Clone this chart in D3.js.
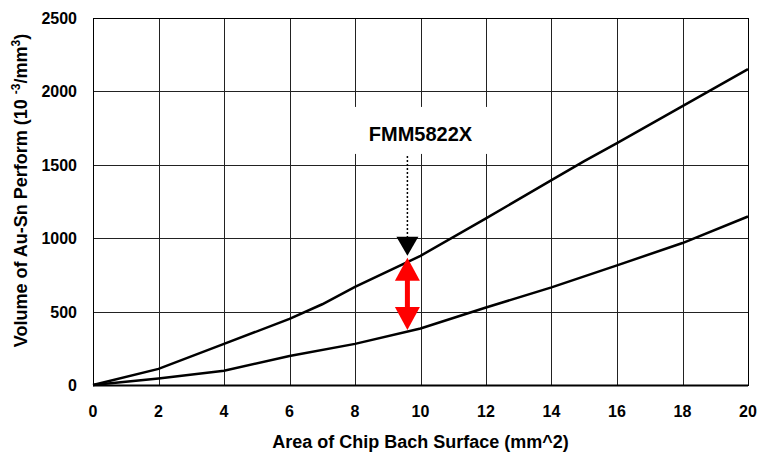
<!DOCTYPE html>
<html>
<head>
<meta charset="utf-8">
<script src="https://cdn.jsdelivr.net/npm/d3@7"></script>
<style>
  body { margin: 0; background: #fff; }
  text { font-family: "Liberation Sans", Arial, sans-serif; font-weight: bold; }
</style>
</head>
<body>
<div id="chart"></div>
<script>
// data
var areas = [0, 2, 4, 6, 7, 8, 10, 12, 14, 15, 16, 18, 20];
var upperVolume = [0, 110, 280, 450, 550, 668, 880, 1135, 1396, 1525, 1648, 1900, 2152];
var lowerArea = [0, 2, 4, 6, 8, 10, 12, 14, 16, 18, 20];
var lowerVolume = [0, 45, 97, 198, 280, 385, 528, 665, 815, 967, 1148];
var xTicks = [0, 2, 4, 6, 8, 10, 12, 14, 16, 18, 20];
var yTicks = [0, 500, 1000, 1500, 2000, 2500];
var markerX = 9.6, markerTop = 880, markerBottom = 375;

var margin = {top: 18, right: 9, bottom: 67, left: 93};
var w = 757, h = 452;
var width = w - margin.left - margin.right;
var height = h - margin.top - margin.bottom;

var svg = d3.select("#chart").append("svg")
    .attr("width", w)
    .attr("height", h)
  .append("g")
    .attr("transform", "translate(" + margin.left + "," + margin.top + ")");

var x = d3.scaleLinear().domain([0, 20]).range([0, width]);
var y = d3.scaleLinear().domain([0, 2500]).range([height, 0]);

// grid
svg.selectAll(".vgrid").data(xTicks).enter().append("line")
  .attr("x1", d => Math.round(x(d)) + 0.5).attr("x2", d => Math.round(x(d)) + 0.5)
  .attr("y1", 0).attr("y2", height)
  .attr("stroke", "#222").attr("stroke-width", 1);
svg.selectAll(".hgrid").data(yTicks).enter().append("line")
  .attr("y1", d => Math.round(y(d)) + 0.5).attr("y2", d => Math.round(y(d)) + 0.5)
  .attr("x1", 0).attr("x2", width)
  .attr("stroke", "#222").attr("stroke-width", 1);

// label box hiding the grid
svg.append("rect")
  .attr("x", x(7.9)).attr("y", y(2010) + 17)
  .attr("width", x(12.1) - x(7.9)).attr("height", 47)
  .attr("fill", "#fff");
svg.append("text")
  .attr("x", x(10)).attr("y", y(1750) + 13)
  .attr("text-anchor", "middle")
  .attr("font-size", "20px")
  .text("FMM5822X");

// frame
svg.append("rect")
  .attr("x", 0.5).attr("y", 0.5)
  .attr("width", width).attr("height", height)
  .attr("fill", "none").attr("stroke", "#000").attr("stroke-width", 1);
svg.append("line")
  .attr("x1", 0).attr("x2", width)
  .attr("y1", height + 0.5).attr("y2", height + 0.5)
  .attr("stroke", "#000").attr("stroke-width", 2);

// curves
var line = d3.line().x(d => x(d[0])).y(d => y(d[1]));
svg.append("path")
  .datum(areas.map((a, i) => [a, upperVolume[i]]))
  .attr("d", line)
  .attr("fill", "none").attr("stroke", "#000").attr("stroke-width", 2.5);
svg.append("path")
  .datum(lowerArea.map((a, i) => [a, lowerVolume[i]]))
  .attr("d", line)
  .attr("fill", "none").attr("stroke", "#000").attr("stroke-width", 2.5);

// dotted pointer with black arrowhead
var mx = x(markerX);
var tipY = y(markerTop);
svg.append("line")
  .attr("x1", mx).attr("x2", mx)
  .attr("y1", y(1560)).attr("y2", tipY - 14)
  .attr("stroke", "#000").attr("stroke-width", 1.5)
  .attr("stroke-dasharray", "2,2");
svg.append("path")
  .attr("d", "M" + (mx - 11) + "," + (tipY - 19) + "L" + (mx + 11) + "," + (tipY - 19) + "L" + mx + "," + tipY + "Z")
  .attr("fill", "#000");

// red double arrow
var topY = y(markerTop) + 2, botY = y(markerBottom);
svg.append("line")
  .attr("x1", mx).attr("x2", mx)
  .attr("y1", topY + 15).attr("y2", botY - 15)
  .attr("stroke", "#f00").attr("stroke-width", 5);
svg.append("path")
  .attr("d", "M" + mx + "," + topY + "L" + (mx + 12.5) + "," + (topY + 23) + "L" + (mx - 12.5) + "," + (topY + 23) + "Z")
  .attr("fill", "#f00");
svg.append("path")
  .attr("d", "M" + mx + "," + botY + "L" + (mx + 12.5) + "," + (botY - 23) + "L" + (mx - 12.5) + "," + (botY - 23) + "Z")
  .attr("fill", "#f00");

// tick labels
svg.selectAll(".xt").data(xTicks).enter().append("text")
  .attr("x", d => x(d)).attr("y", height + 32)
  .attr("text-anchor", "middle")
  .attr("font-size", "16px")
  .text(d => d);
svg.selectAll(".yt").data(yTicks).enter().append("text")
  .attr("x", -16).attr("y", d => y(d) + 6)
  .attr("text-anchor", "end")
  .attr("font-size", "16px")
  .text(d => d);

// axis titles
svg.append("text")
  .attr("x", x(10) - 0).attr("y", height + 63)
  .attr("text-anchor", "middle")
  .attr("font-size", "18px")
  .text("Area of Chip Bach Surface (mm^2)");

var yl = svg.append("text")
  .attr("transform", "translate(" + (-66) + "," + (height / 2 - 11) + ")rotate(-90)")
  .attr("text-anchor", "middle")
  .attr("font-size", "18px");
yl.append("tspan").text("Volume of Au-Sn Perform (10 ");
yl.append("tspan").attr("dy", -7).attr("font-size", "12px").text("-3");
yl.append("tspan").attr("dy", 7).text("/mm");
yl.append("tspan").attr("dy", -7).attr("font-size", "12px").text("3");
yl.append("tspan").attr("dy", 7).text(")");
</script>
</body>
</html>
